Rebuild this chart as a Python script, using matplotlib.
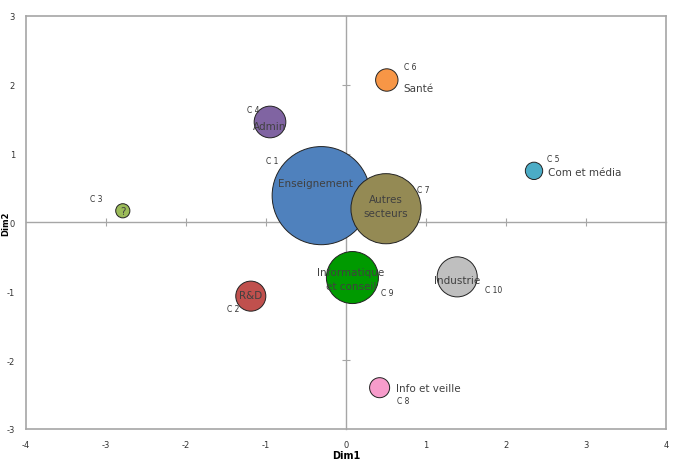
import matplotlib.pyplot as plt

plt.rcParams["axes.unicode_minus"] = False

# coordonnees des classes sur le plan factoriel
clusters = ["C 1", "C 2", "C 3", "C 4", "C 5", "C 6", "C 7", "C 8", "C 9", "C 10"]
secteurs = ["Enseignement", "R&D", "?", "Admin", "Com et média", "Santé",
            "Autres\nsecteurs", "Info et veille", "Informatique\net conseil", "Industrie"]
dim1 = [-0.31, -1.19, -2.79, -0.95, 2.35, 0.51, 0.50, 0.42, 0.08, 1.39]
dim2 = [0.39, -1.07, 0.17, 1.46, 0.75, 2.07, 0.20, -2.40, -0.80, -0.79]
effectifs = [96, 9, 2, 10, 3, 5, 49, 4, 27, 16]
couleurs = ["#4F81BD", "#C0504D", "#9BBB59", "#8064A2", "#4BACC6", "#F79646",
            "#948A54", "#F79CCB", "#009A00", "#BFBFBF"]

# decalages des etiquettes (points)
off_nom = [(-4, 9), (0, 1), (0, 0), (0, -3), (10, -1), (12, -6), (0, 2), (12, 0), (-1, -1), (0, -2)]
ha_nom = ["center", "center", "center", "center", "left", "left", "center", "left", "center", "center"]
off_c = [(-35, 25), (-13, -9), (-19, 9), (-12, 9), (14, 9), (17, 10), (27, 14), (17, -9), (25, -11), (26, -9)]

fig = plt.figure(figsize=(6.75, 4.64), dpi=100)
pos = [0.0385, 0.0733, 0.9482, 0.8901]

# cadre + etiquettes des graduations
cadre = fig.add_axes(pos, zorder=0)
cadre.set_xlim(-4, 4)
cadre.set_ylim(-3, 3)
cadre.set_xticks(range(-4, 5))
cadre.set_yticks(range(-3, 4))
cadre.tick_params(length=0, labelsize=6, pad=8, colors="#333333")
for s in cadre.spines.values():
    s.set_color("#A6A6A6")
    s.set_linewidth(1.2)
cadre.set_xlabel("Dim1", fontsize=7, fontweight="bold", labelpad=1)
cadre.set_ylabel("Dim2", fontsize=6, fontweight="bold")
cadre.yaxis.set_label_coords(-0.024, 0.5)

ax = fig.add_axes(pos, zorder=1)
ax.patch.set_alpha(0)
ax.set_xlim(-4, 4)
ax.set_ylim(-3, 3)
ax.spines["left"].set_position(("data", 0))
ax.spines["bottom"].set_position(("data", 0))
ax.spines["top"].set_visible(False)
ax.spines["right"].set_visible(False)
for s in ("left", "bottom"):
    ax.spines[s].set_color("#A6A6A6")
    ax.spines[s].set_linewidth(1.0)
ax.set_xticks([-3, -2, -1, 1, 2, 3])
ax.set_yticks([-2, -1, 1, 2])
ax.tick_params(direction="inout", length=6, color="#A6A6A6", labelleft=False, labelbottom=False)

ax.scatter(dim1, dim2, s=[52 * e for e in effectifs], c=couleurs,
           edgecolors="#222222", linewidths=0.7, zorder=3)

for i in range(len(clusters)):
    ax.annotate(secteurs[i], (dim1[i], dim2[i]), xytext=off_nom[i], textcoords="offset points",
                ha=ha_nom[i], va="center", fontsize=7.5, color="#404040",
                linespacing=1.4, zorder=4)
    ax.annotate(clusters[i], (dim1[i], dim2[i]), xytext=off_c[i], textcoords="offset points",
                ha="center", va="center", fontsize=5.5, color="#333333", zorder=4)

fig.savefig("out.png", dpi=100)
